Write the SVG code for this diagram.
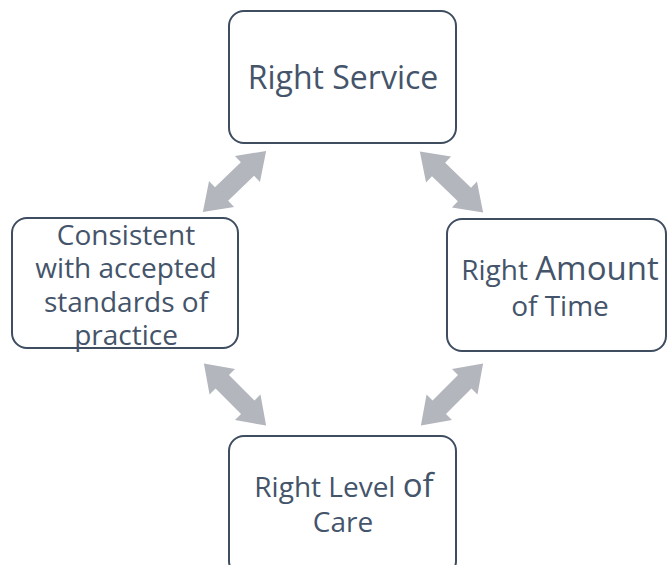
<svg xmlns="http://www.w3.org/2000/svg" width="668" height="565" viewBox="0 0 668 565">
<defs>
<style>
.box{fill:#ffffff;stroke:#3e4d60;stroke-width:2}
.t{font-family:"Open Sans","Liberation Sans",sans-serif;fill:#44546a;text-anchor:middle}
.arr{fill:#b3b6bd}
</style>
<polygon id="dbl" points="-44,0 -18,-18 -18,-9.5 18,-9.5 18,-18 44,0 18,18 18,9.5 -18,9.5 -18,18"/>
</defs>
<rect width="668" height="565" fill="#ffffff"/>
<g id="connectors" class="arr">
<use href="#dbl" transform="translate(234.5,181.5) rotate(-44)"/>
<use href="#dbl" transform="translate(451.5,182) rotate(44)"/>
<use href="#dbl" transform="translate(235,394.5) rotate(45)"/>
<use href="#dbl" transform="translate(452,394.5) rotate(-45)"/>
</g>
<g id="right-service">
<rect class="box" x="229" y="11" width="227" height="132" rx="15"/>
<text class="t" x="343" y="89" font-size="32">Right Service</text>
</g>
<g id="consistent">
<rect class="box" x="12" y="218" width="226" height="130" rx="15"/>
<text class="t" font-size="28"><tspan x="126" y="245">Consistent</tspan><tspan x="126" y="278">with accepted</tspan><tspan x="126" y="312">standards of</tspan><tspan x="126" y="345">practice</tspan></text>
</g>
<g id="right-amount">
<rect class="box" x="447" y="219" width="219" height="132" rx="15"/>
<text class="t" x="560" y="280" font-size="28">Right <tspan font-size="33">Amount</tspan></text>
<text class="t" x="560" y="316" font-size="28">of Time</text>
</g>
<g id="right-level">
<rect class="box" x="229" y="436" width="227" height="140" rx="15"/>
<text class="t" x="344" y="497" font-size="28">Right Level <tspan font-size="33">of</tspan></text>
<text class="t" x="343" y="532" font-size="28">Care</text>
</g>
</svg>
